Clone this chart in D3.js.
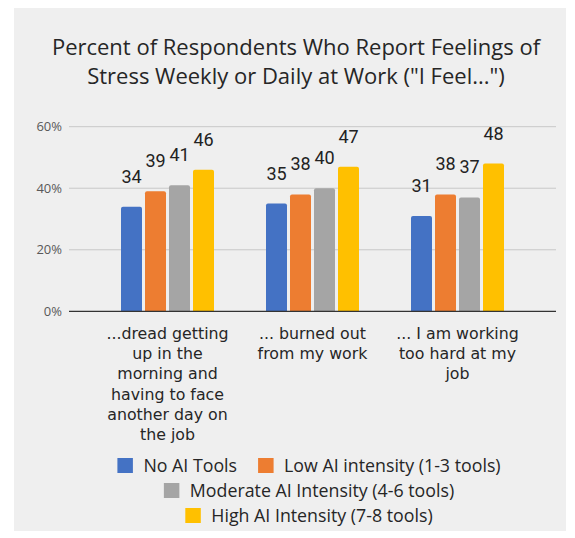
<!DOCTYPE html>
<html>
<head>
<meta charset="utf-8">
<script src="https://cdn.jsdelivr.net/npm/d3@7"></script>
<style>
  body { margin: 0; background: #fff; }
  svg text { font-family: "Open Sans", sans-serif; }
</style>
</head>
<body>
<div id="chart"></div>
<script>
// data
const categories = [
    ["...dread getting", "up in the", "morning and", "having to face", "another day on", "the job"],
    ["... burned out", "from my work"],
    ["... I am working", "too hard at my", "job"]
];
const seriesNames = [
    "No AI Tools",
    "Low AI intensity (1-3 tools)",
    "Moderate AI Intensity (4-6 tools)",
    "High AI Intensity (7-8 tools)"
];
const seriesColors = ["#4472c4", "#ed7d31", "#a5a5a5", "#ffc000"];
const noAI = [34, 35, 31];
const lowAI = [39, 38, 38];
const moderateAI = [41, 40, 37];
const highAI = [46, 47, 48];
const yTicks = [0, 20, 40, 60];

const width = 575, height = 538;
const series = [noAI, lowAI, moderateAI, highAI];

const svg = d3.select("#chart").append("svg")
    .attr("width", width)
    .attr("height", height);

// panel
svg.append("rect")
    .attr("x", 14).attr("y", 8)
    .attr("width", 552).attr("height", 523)
    .attr("fill", "#efefef");

// title
const title = svg.append("text")
    .attr("text-anchor", "middle")
    .attr("font-size", "22px")
    .attr("fill", "#262626");
title.append("tspan").attr("x", 296).attr("y", 55).text("Percent of Respondents Who Report Feelings of");
title.append("tspan").attr("x", 296).attr("y", 84).text("Stress Weekly or Daily at Work (\"I Feel...\")");

const y = d3.scaleLinear().domain([0, 60]).range([311.3, 126.7]);
const x0 = d3.scaleBand().domain(d3.range(categories.length)).range([95, 530]);
const x1 = d3.scaleBand().domain(d3.range(series.length))
    .range([0, 93]).paddingInner(0.125);

// gridlines
svg.append("g")
    .selectAll("line")
    .data(yTicks.filter(t => t > 0))
    .enter().append("line")
    .attr("x1", 69).attr("x2", 556)
    .attr("y1", d => y(d)).attr("y2", d => y(d))
    .attr("stroke", "#c8c8c8").attr("stroke-width", 1);

// y axis labels
svg.append("g")
    .selectAll("text")
    .data(yTicks)
    .enter().append("text")
    .attr("x", 62)
    .attr("y", d => y(d) + 4.5)
    .attr("text-anchor", "end")
    .attr("font-size", "13px")
    .attr("fill", "#595959")
    .text(d => d + "%");

// bars
const groups = svg.append("g")
    .selectAll("g")
    .data(categories)
    .enter().append("g")
    .attr("transform", (d, i) => `translate(${x0(i) + (x0.bandwidth() - 93) / 2},0)`);

groups.each(function(d, ci) {
    const g = d3.select(this);
    series.forEach((s, si) => {
        g.append("path")
            .attr("d", roundTop(x1(si), y(s[ci]), x1.bandwidth(), y(0) - y(s[ci]), 2))
            .attr("fill", seriesColors[si]);
        g.append("text")
            .attr("x", x1(si) + x1.bandwidth() / 2)
            .attr("y", y(s[ci]) - 24)
            .attr("text-anchor", "middle")
            .style("font-family", "Roboto, sans-serif")
            .attr("font-size", "18px")
            .attr("fill", "#222")
            .text(s[ci]);
    });
});

function roundTop(x, y0, w, h, r) {
    return `M${x},${y0 + h}V${y0 + r}Q${x},${y0} ${x + r},${y0}H${x + w - r}Q${x + w},${y0} ${x + w},${y0 + r}V${y0 + h}Z`;
}

// x axis line
svg.append("line")
    .attr("x1", 69).attr("x2", 556)
    .attr("y1", y(0)).attr("y2", y(0))
    .attr("stroke", "#333").attr("stroke-width", 1.2);

// category labels, one text per line so the lines sit 20px apart
categories.forEach((lines, i) => {
    lines.forEach((line, li) => {
        svg.append("text")
            .attr("x", x0(i) + x0.bandwidth() / 2)
            .attr("y", 339 + li * 20.2)
            .attr("text-anchor", "middle")
            .style("font-family", "'DejaVu Sans', sans-serif")
            .attr("font-size", "15.8px")
            .attr("fill", "#262626")
            .text(line);
    });
});

// legend
const legendRows = [
    { items: [0, 1], y: 472 },
    { items: [2], y: 497 },
    { items: [3], y: 522 }
];
const legend = svg.append("g");
legendRows.forEach(row => {
    const g = legend.append("g");
    let cx = 0;
    row.items.forEach(si => {
        const item = g.append("g").attr("transform", `translate(${cx},0)`);
        item.append("rect")
            .attr("x", 0).attr("y", row.y - 14)
            .attr("width", 15.5).attr("height", 15)
            .attr("fill", seriesColors[si]);
        const txt = item.append("text")
            .attr("x", 26).attr("y", row.y)
            .attr("font-size", "17.8px")
            .attr("fill", "#262626")
            .text(seriesNames[si]);
        cx += 26 + txt.node().getComputedTextLength() + 21;
    });
    const w = cx - 21;
    g.attr("transform", `translate(${309 - w / 2},0)`);
});
</script>
</body>
</html>
